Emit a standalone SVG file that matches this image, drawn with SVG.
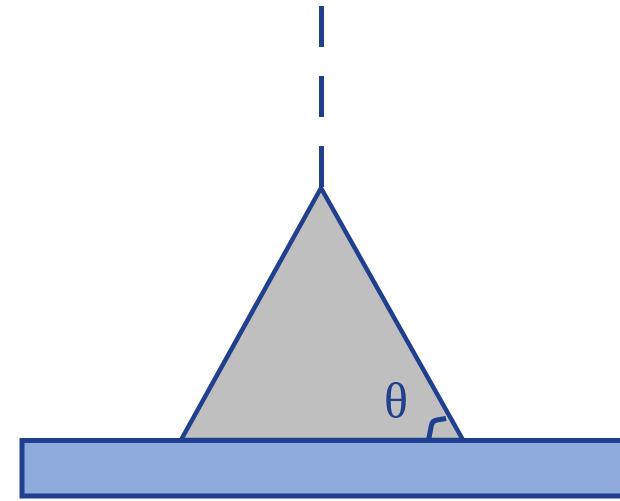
<svg xmlns="http://www.w3.org/2000/svg" width="620" height="501" viewBox="0 0 620 501">
<style>
.ln{stroke:#203F8F;stroke-width:5;fill:none}
.lbl{font-family:"Liberation Serif",serif;font-size:50px;fill:#203F8F}
</style>
<rect width="620" height="501" fill="#fff"/>
<g id="axis">
<line class="ln" x1="321.5" y1="6" x2="321.5" y2="188" stroke-dasharray="41 29"/>
</g>
<g id="cone">
<polygon points="321,188 181,440 463,440" fill="#BFBFBF" stroke="#203F8F" stroke-width="4.5" stroke-linejoin="miter"/>
</g>
<g id="base">
<rect x="22" y="440.5" width="610" height="55.5" fill="#8FAADC" stroke="#203F8F" stroke-width="5"/>
</g>
<g id="angle">
<path class="ln" stroke-width="4" d="M428.5,440 L431.5,425 Q432.5,420.5 437,420 L446,418.5"/>
<text class="lbl" x="396" y="418" text-anchor="middle">θ</text>
</g>
</svg>
